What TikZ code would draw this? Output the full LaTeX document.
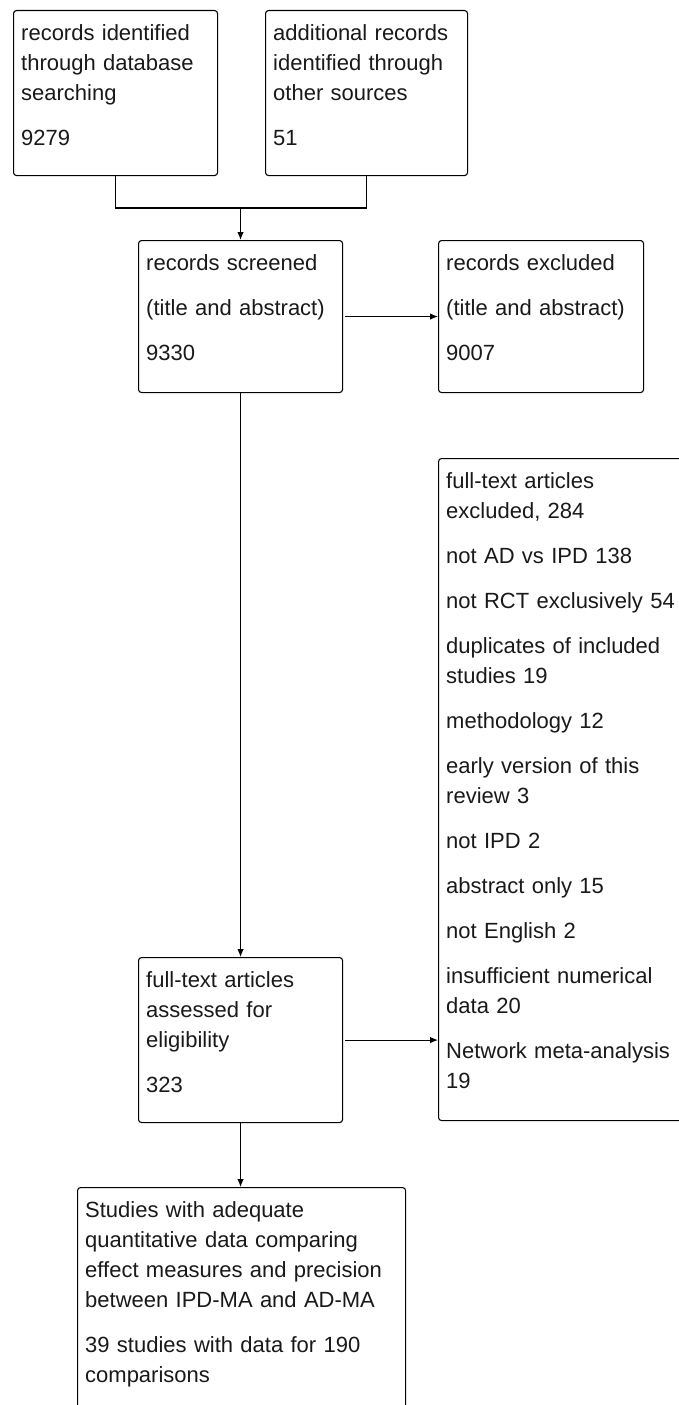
\documentclass[tikz,border=0pt]{standalone}
\usepackage{fontspec}
\setmainfont{Liberation Sans}
\usetikzlibrary{arrows.meta}
\begin{document}
\begin{tikzpicture}[x=1pt,y=-1pt,
  box/.style={draw=black, line width=1.1pt, rounded corners=3pt, inner sep=0pt, anchor=north west},
  txt/.style={anchor=north west, inner sep=0pt, text width=#1, align=left,
              font=\fontsize{22}{30}\selectfont, text=black!90},
  conn/.style={line width=1.1pt, draw=black},
  arr/.style={conn, -{Latex[length=8pt,width=6.5pt]}}
]
\useasboundingbox (0,0) rectangle (679,1405);
\clip (0,0) rectangle (679,1405);

% boxes
\node[box, minimum width=204pt, minimum height=165pt] (b1) at (13,10) {};
\node[box, minimum width=202pt, minimum height=165pt] (b2) at (265,10) {};
\node[box, minimum width=204pt, minimum height=152pt] (b3) at (138,240) {};
\node[box, minimum width=205pt, minimum height=152pt] (b4) at (438,240) {};
\node[box, minimum width=262pt, minimum height=662pt] (rb) at (438,458) {};
\node[box, minimum width=204pt, minimum height=165pt] (b5) at (138,957) {};
\node[box, minimum width=328pt, minimum height=240pt] (b6) at (77,1187) {};

% texts
\node[txt=188pt] (t1) at ([xshift=8pt,yshift=-9pt]b1.north west)
  {\strut records identified\\ through database\\ searching\\[15pt] 9279};
\node[txt=188pt] (t2) at ([xshift=8pt,yshift=-9pt]b2.north west)
  {\strut additional records\\ identified through\\ other sources\\[15pt] 51};
\node[txt=190pt] (t3) at ([xshift=8pt,yshift=-9pt]b3.north west)
  {\strut records screened\\[15pt] (title and abstract)\\[15pt] 9330};
\node[txt=190pt] (t4) at ([xshift=8pt,yshift=-9pt]b4.north west)
  {\strut records excluded\\[15pt] (title and abstract)\\[15pt] 9007};
\node[txt=246pt] (tr) at ([xshift=8pt,yshift=-9pt]rb.north west)
  {\strut full-text articles\\ excluded, 284\\[15pt]
   not AD vs IPD 138\\[15pt]
   not RCT exclusively 54\\[15pt]
   duplicates of included\\ studies 19\\[15pt]
   methodology 12\\[15pt]
   early version of this\\ review 3\\[15pt]
   not IPD 2\\[15pt]
   abstract only 15\\[15pt]
   not English 2\\[15pt]
   insufficient numerical\\ data 20\\[15pt]
   Network meta-analysis\\ 19};
\node[txt=188pt] (t5) at ([xshift=8pt,yshift=-9pt]b5.north west)
  {\strut full-text articles\\ assessed for\\ eligibility\\[15pt] 323};
\node[txt=312pt] (t6) at ([xshift=8pt,yshift=-9pt]b6.north west)
  {\strut Studies with adequate\\ quantitative data comparing\\ effect measures and precision\\ between IPD-MA and AD-MA\\[15pt] 39 studies with data for 190\\ comparisons};

% connectors
\coordinate (j) at ([yshift=32pt]b3.north);
\draw[conn] (b1.south) |- (j) -| (b2.south);
\draw[arr] (j) -- (b3.north);
\draw[arr] ([xshift=2pt]b3.east) -- (b4.west);
\draw[arr] (b3.south) -- (b5.north);
\draw[arr] ([xshift=2pt]b5.east) -- (b5.east -| rb.west);
\draw[arr] (b5.south) -- (b5.south |- b6.north);
\end{tikzpicture}
\end{document}
